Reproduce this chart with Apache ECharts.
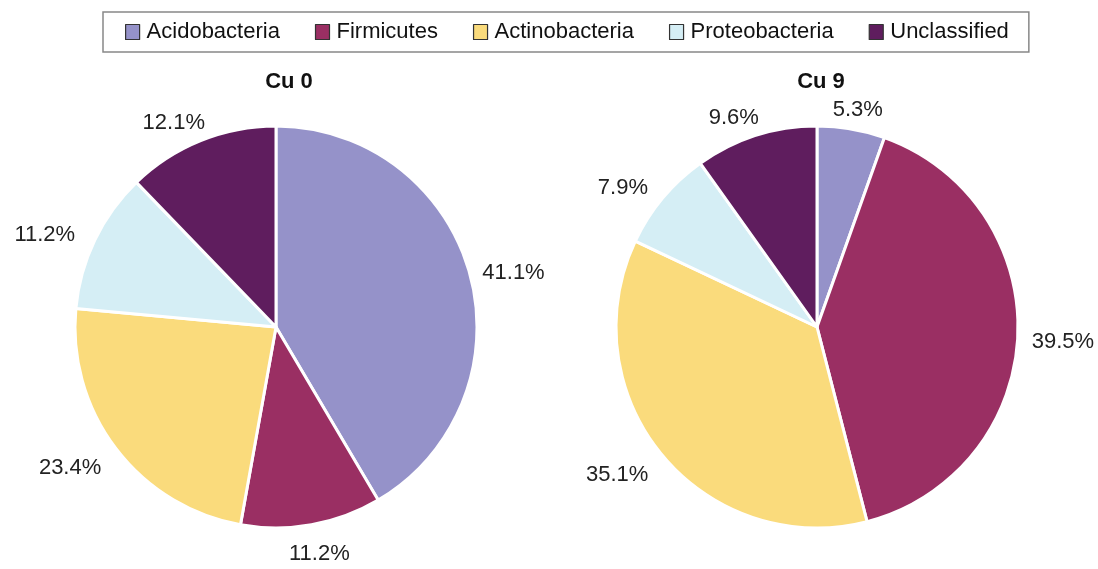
<!DOCTYPE html>
<html><head><meta charset="utf-8">
<script src="https://cdn.jsdelivr.net/npm/echarts@6/dist/echarts.min.js"></script>
<style>html,body{margin:0;padding:0;background:#fff}#c{width:1098px;height:569px}</style>
</head><body><div id="c"></div>
<script>
const categories = ['Acidobacteria','Firmicutes','Actinobacteria','Proteobacteria','Unclassified'];
const cu0 = [41.1, 11.2, 23.4, 11.2, 12.1];
const cu9 = [5.3, 39.5, 35.1, 7.9, 9.6];
const titles = ['Cu 0','Cu 9'];
const colors = ['#9592C9','#9A2F63','#FADB7C','#D5EEF5','#5F1D5E'];

const FONT = 'Liberation Sans, Arial, sans-serif';
const R = 201;
const centers = [[276,327],[817,327]];
const allVals = [cu0, cu9];

function midDir(si, di){
  const vals = allVals[si];
  const sum = vals.reduce((a,b)=>a+b,0);
  let acc = 0;
  for (let i=0;i<di;i++) acc += vals[i];
  const mid = (acc + vals[di]/2)/sum * 2*Math.PI;
  return [Math.sin(mid), -Math.cos(mid)];
}

const chart = echarts.init(document.getElementById('c'));
function mk(vals, si){
  return {
    type:'pie', center:centers[si], radius:R, startAngle:90, clockwise:true,
    animation:false,
    data: categories.map((n,i)=>({name:n, value:vals[i], itemStyle:{color:colors[i]}})),
    itemStyle:{borderColor:'#fff', borderWidth:3},
    label:{show:true, position:'outside', overflow:'none', formatter: p => p.value.toFixed(1)+'%', fontSize:22, color:'#222', fontFamily:FONT},
    labelLine:{show:false, length:10, length2:4},
    labelLayout: function(p){
      const d = midDir(si, p.dataIndex);
      const c = centers[si];
      const hw = p.labelRect.width/2, hh = 10;
      const rg = R + 14;
      return {
        x: c[0] + d[0]*(rg + hw) + (d[0] < 0 ? -10 : 0),
        y: c[1] + d[1]*(rg + hh) + 5,
        align:'center', verticalAlign:'middle'
      };
    },
    emphasis:{disabled:true}
  };
}
chart.setOption({
  color: colors,
  title: [
    {text:titles[0], left:284, top:66, textAlign:'center', textStyle:{fontSize:22, fontWeight:'bold', color:'#111', fontFamily:FONT}},
    {text:titles[1], left:816, top:66, textAlign:'center', textStyle:{fontSize:22, fontWeight:'bold', color:'#111', fontFamily:FONT}}
  ],
  legend:{
    data: categories, top:12, left:103, orient:'horizontal',
    borderColor:'#888', borderWidth:1.5, padding:[9,20,9,22],
    itemWidth:14, itemHeight:15, itemGap:35, icon:'rect',
    itemStyle:{borderColor:'#333', borderWidth:1.2},
    textStyle:{fontSize:22, color:'#111', fontFamily:FONT, padding:[0,0,0,2]}
  },
  series:[mk(cu0,0), mk(cu9,1)]
});
</script></body></html>
